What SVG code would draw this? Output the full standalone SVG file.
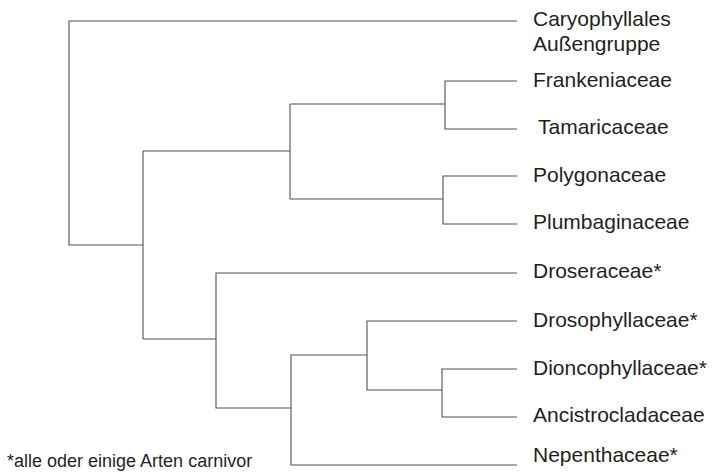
<svg xmlns="http://www.w3.org/2000/svg" width="716" height="473" viewBox="0 0 716 473">
<style>
.e{fill:none;stroke:#505050;stroke-width:1.1}
.t{font-family:"Liberation Sans",Arial,sans-serif;font-size:21px;fill:#231f20}
.f{font-family:"Liberation Sans",Arial,sans-serif;font-size:18px;fill:#231f20}
</style>
<rect width="716" height="473" fill="#fff"/>
<g id="connectors">
<path class="e" d="M517,21H69V245H143"/>
<path class="e" d="M143,151V339"/>
<path class="e" d="M143,151H290M290,104V199"/>
<path class="e" d="M290,104H445M517,81H445V129H517"/>
<path class="e" d="M290,199H443M517,176H443V224H517"/>
<path class="e" d="M143,339H216M517,273H216V408H291"/>
<path class="e" d="M517,465H291V355H367"/>
<path class="e" d="M517,321H367V390H442"/>
<path class="e" d="M517,369H442V417H517"/>
</g>
<g id="n-outgroup"><text class="t" x="533" y="26">Caryophyllales</text><text class="t" x="533" y="51">Außengruppe</text></g>
<g id="n-frankeniaceae"><text class="t" x="533" y="87">Frankeniaceae</text></g>
<g id="n-tamaricaceae"><text class="t" x="538" y="134">Tamaricaceae</text></g>
<g id="n-polygonaceae"><text class="t" x="533" y="182">Polygonaceae</text></g>
<g id="n-plumbaginaceae"><text class="t" x="533" y="229">Plumbaginaceae</text></g>
<g id="n-droseraceae"><text class="t" x="533" y="278">Droseraceae*</text></g>
<g id="n-drosophyllaceae"><text class="t" x="533" y="327">Drosophyllaceae*</text></g>
<g id="n-dioncophyllaceae"><text class="t" x="533" y="375">Dioncophyllaceae*</text></g>
<g id="n-ancistrocladaceae"><text class="t" x="533" y="422">Ancistrocladaceae</text></g>
<g id="n-nepenthaceae"><text class="t" x="533" y="462">Nepenthaceae*</text></g>
<g id="footnote"><text class="f" x="7" y="467">*alle oder einige Arten carnivor</text></g>
</svg>
